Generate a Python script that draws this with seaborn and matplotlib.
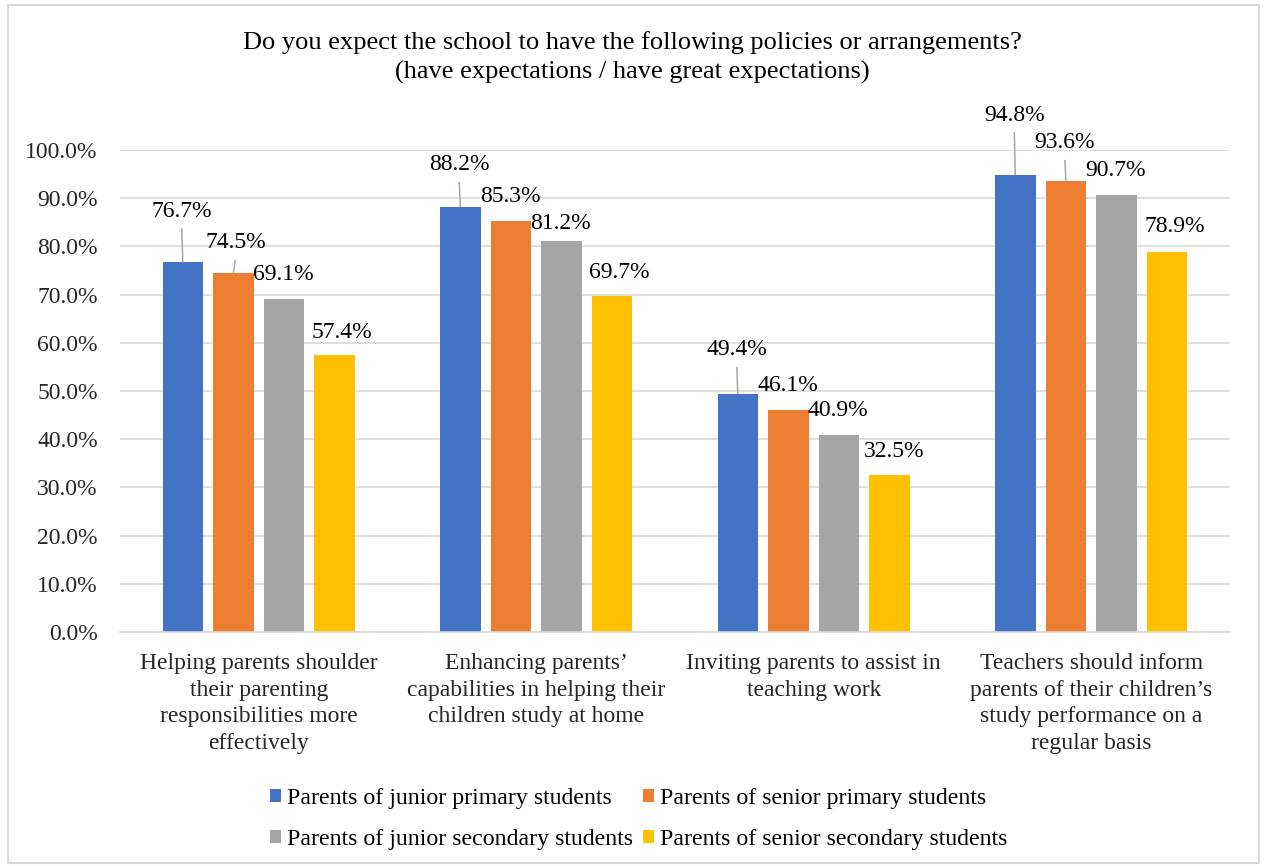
import matplotlib
matplotlib.use("Agg")
import matplotlib.pyplot as plt
from matplotlib.patches import Rectangle
from matplotlib.ticker import PercentFormatter
import numpy as np
import pandas as pd
import seaborn as sns

# Survey items (x axis) and parent groups (legend)
categories = [
    "Helping parents shoulder\ntheir parenting\nresponsibilities more\neffectively",
    "Enhancing parents\u2019\ncapabilities in helping their\nchildren study at home",
    "Inviting parents to assist in\nteaching work",
    "Teachers should inform\nparents of their children\u2019s\nstudy performance on a\nregular basis",
]
groups = [
    "Parents of junior primary students",
    "Parents of senior primary students",
    "Parents of junior secondary students",
    "Parents of senior secondary students",
]

# Share of parents with expectations (%), one list per parent group
junior_primary = [76.7, 88.2, 49.4, 94.8]
senior_primary = [74.5, 85.3, 46.1, 93.6]
junior_secondary = [69.1, 81.2, 40.9, 90.7]
senior_secondary = [57.4, 69.7, 32.5, 78.9]

series = [junior_primary, senior_primary, junior_secondary, senior_secondary]
colors = ["#4472C4", "#ED7D31", "#A5A5A5", "#FFC000"]

# Data-label placement (pixel offsets from each bar top: dx, dy), per group then series
label_offsets = [
    [(-1, 51), (2, 30), (-1, 24), (7, 23)],
    [(-1, 42), (-1, 24), (-1, 17), (7, 24)],
    [(-1, 44), (-1, 24), (-1, 24), (4, 24)],
    [(-1, 60), (-1, 38), (-1, 24), (8, 25)],
]

rows = []
for g, vals in zip(groups, series):
    for c, v in zip(categories, vals):
        rows.append({"category": c, "group": g, "value": v / 100.0})
df = pd.DataFrame(rows)

sns.set_theme(style="white")
plt.rcParams["font.family"] = ["Liberation Serif", "DejaVu Serif"]
plt.rcParams["text.color"] = "#000000"

FS = 17
fig = plt.figure(figsize=(12.64, 8.66), dpi=100)
fig.patch.set_facecolor("white")
ax = fig.add_axes([120 / 1264, 1 - 632 / 866, 1110 / 1264, 482 / 866])

sns.barplot(
    data=df, x="category", y="value", hue="group",
    hue_order=groups, order=categories, palette=colors,
    width=0.73, gap=0.2, saturation=1, ax=ax, legend=True,
    edgecolor="none", linewidth=0,
)

ax.set_xlim(-0.5, 3.5)
ax.set_ylim(0, 1.0)
ax.set_yticks(np.arange(0, 1.01, 0.1))
ax.yaxis.set_major_formatter(PercentFormatter(xmax=1.0, decimals=1))
ax.grid(axis="y", color="#D9D9D9", linewidth=1.2)
ax.grid(axis="x", visible=False)
ax.set_axisbelow(True)
for side in ["top", "left", "right"]:
    ax.spines[side].set_visible(False)
ax.spines["bottom"].set_color("#D9D9D9")
ax.spines["bottom"].set_linewidth(1.2)
ax.set_xlabel("")
ax.set_ylabel("")
ax.tick_params(axis="y", length=0, pad=16, labelsize=FS)
ax.tick_params(axis="x", length=0, pad=15, labelsize=FS)
for lbl in ax.get_xticklabels():
    lbl.set_linespacing(1.36)
    lbl.set_ha("center")

# Data labels with leader lines for labels lifted well above their bar
fig.canvas.draw()
to_disp = ax.transData
to_data = ax.transData.inverted()
for si, cont in enumerate(ax.containers):
    for ci, rect in enumerate(cont):
        xc = rect.get_x() + rect.get_width() / 2
        top = rect.get_height()
        dx, dy = label_offsets[ci][si]
        px, py = to_disp.transform((xc, top))
        lx, ly = to_data.transform((px + dx, py + dy))
        ax.text(lx, ly, f"{series[si][ci]:.1f}%", ha="center", va="center",
                fontsize=FS, clip_on=False)
        if dy >= 30:
            ex, ey = to_data.transform((px + dx, py + dy - 17))
            ax.plot([xc, ex], [top, ey], color="#A6A6A6", lw=1.1,
                    solid_capstyle="butt", clip_on=False, zorder=3)

# Legend below the plot, filled row by row
handles, labels = ax.get_legend_handles_labels()
ax.legend_.remove()
order = [0, 2, 1, 3]
fig.legend([handles[i] for i in order], [labels[i] for i in order],
           loc="center", bbox_to_anchor=(0.5055, 1 - 819 / 866),
           ncol=2, frameon=False, fontsize=17.2, handlelength=0.45, handleheight=0.45,
           handletextpad=0.28, columnspacing=0.4, labelspacing=0.85)

fig.suptitle("Do you expect the school to have the following policies or arrangements?\n"
             "(have expectations / have great expectations)",
             x=0.5, y=1 - 57.5 / 866, va="center", ha="center", fontsize=19,
             linespacing=1.42)

# Chart-area frame
fig.patches.append(Rectangle((8 / 1264, 3 / 866), 1251 / 1264, 858 / 866,
                             transform=fig.transFigure, fill=False,
                             edgecolor="#D9D9D9", linewidth=1.5))

fig.savefig("out.png", dpi=100, facecolor="white")
